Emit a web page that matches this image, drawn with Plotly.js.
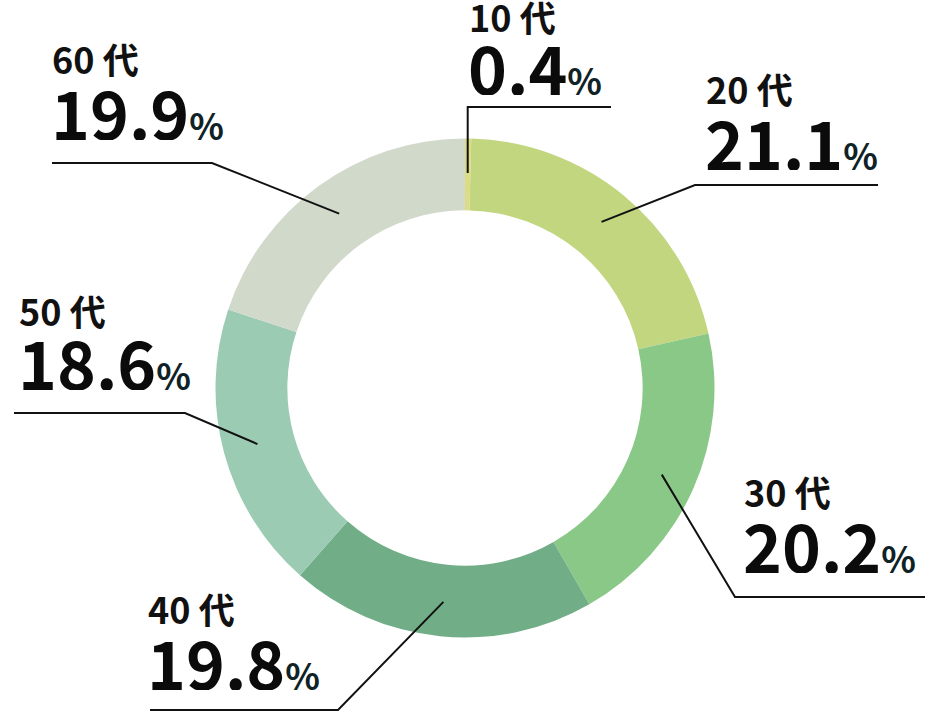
<!DOCTYPE html>
<html><head><meta charset="utf-8">
<script src="https://cdn.plot.ly/plotly-3.0.1.min.js"></script>
<style>html,body{margin:0;padding:0;background:#fff;}#chart{width:944px;height:712px;}</style>
</head><body><div id="chart"></div>
<script>
// ---- data ----
const categories = ['10 代', '20 代', '30 代', '40 代', '50 代', '60 代'];
const values = [0.4, 21.1, 20.2, 19.8, 18.6, 19.9];
const colors = ['#dedb86', '#c1d67f', '#89c886', '#71ae87', '#9ccbb3', '#d1d9cb'];

// ---- layout (pixels) ----
const W = 944, H = 712;
const CX = 465, CY = 388, R = 249.5, HOLE = 0.712;
const labelLeft = [468, 705, 743, 147, 18, 51];
const labelBase = [33, 105, 508, 625, 327, 75];
const numBase = [97, 172, 575, 692, 392, 142];
const elbow = [[null, 107], [695, 185], [735, 597], [338, 710], [185, 413], [212, 163]];
const lineEnd = [[611, 107], [878, 185], [925, 597], [150, 710], [14, 413], [52, 163]];
const LEAD_R = 215;
const LABEL_SIZE = 36, NUM_SIZE = 66, PCT_SIZE = 36;

const FONT = '"Noto Sans CJK JP", "Noto Sans", sans-serif';
const px = x => x / W, py = y => 1 - y / H;

const total = values.reduce((a, b) => a + b, 0);
const annotations = [];
const shapes = [];
let cum = 0;
values.forEach((v, i) => {
  const ang = (cum + v / 2) / total * 2 * Math.PI;
  cum += v;
  const ix = CX + LEAD_R * Math.sin(ang), iy = CY - LEAD_R * Math.cos(ang);
  const ex = elbow[i][0] === null ? ix : elbow[i][0];
  const ey = elbow[i][1];
  shapes.push({
    type: 'path', xref: 'paper', yref: 'paper',
    path: `M ${px(ix)} ${py(iy)} L ${px(ex)} ${py(ey)} L ${px(lineEnd[i][0])} ${py(lineEnd[i][1])}`,
    line: {color: '#111111', width: 2}
  });
  annotations.push({
    xref: 'paper', yref: 'paper', x: px(labelLeft[i]), y: py(labelBase[i] - 1 - 0.436 * LABEL_SIZE),
    xanchor: 'left', yanchor: 'middle', valign: 'middle', showarrow: false, borderpad: 0,
    height: Math.round(LABEL_SIZE * 1.05),
    text: '<b>' + categories[i] + '</b>',
    font: {family: FONT, size: LABEL_SIZE, color: '#111111'}
  });
  annotations.push({
    xref: 'paper', yref: 'paper', x: px(labelLeft[i - 0] - 1), y: py(numBase[i] - 3 - 0.436 * NUM_SIZE),
    xanchor: 'left', yanchor: 'middle', valign: 'middle', showarrow: false, borderpad: 0,
    height: Math.round(NUM_SIZE * 0.9),
    text: '<b>' + v.toFixed(1) + '</b><b><span style="font-size:' + PCT_SIZE + 'px;color:#0f2226">%</span></b>',
    font: {family: FONT, size: NUM_SIZE, color: '#0b0b0b'}
  });
});

const trace = {
  type: 'pie',
  labels: categories,
  values: values,
  marker: {colors: colors, line: {width: 0}},
  hole: HOLE,
  sort: false,
  direction: 'clockwise',
  rotation: 0,
  textinfo: 'none',
  hoverinfo: 'label+percent',
  domain: {x: [(CX - R) / W, (CX + R) / W], y: [(H - CY - R) / H, (H - CY + R) / H]}
};

Plotly.newPlot('chart', [trace], {
  width: W, height: H,
  margin: {l: 0, r: 0, t: 0, b: 0},
  paper_bgcolor: '#ffffff',
  showlegend: false,
  annotations: annotations,
  shapes: shapes
}, {displayModeBar: false, staticPlot: true});
</script></body></html>
